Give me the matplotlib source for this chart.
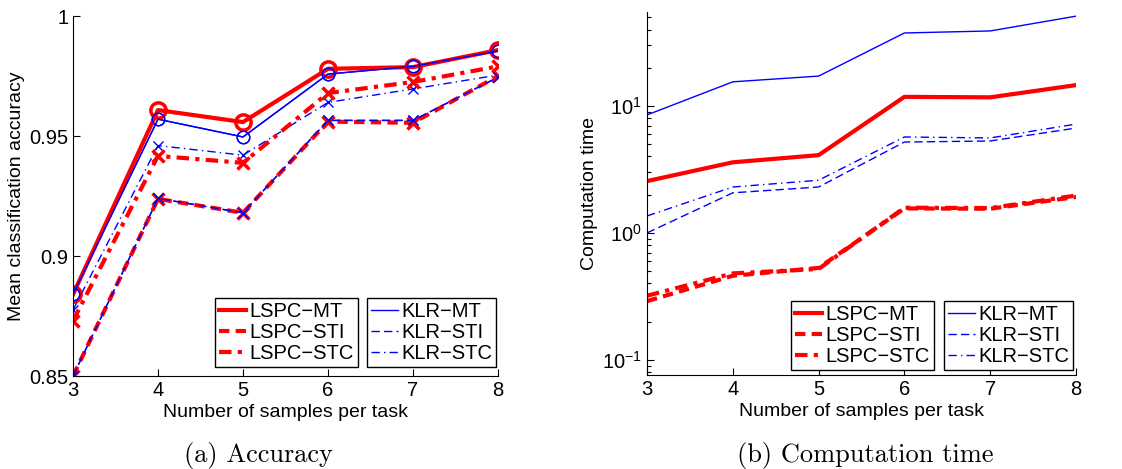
import numpy as np
import matplotlib
matplotlib.use("Agg")
import matplotlib.pyplot as plt

plt.rcParams['font.family'] = ['Liberation Sans', 'DejaVu Sans']
plt.rcParams['mathtext.fontset'] = 'custom'
plt.rcParams['mathtext.rm'] = 'Liberation Sans'
plt.rcParams['mathtext.it'] = 'Liberation Sans'

samples = [3, 4, 5, 6, 7, 8]

# (a) mean classification accuracy
acc_lspc_mt = [0.884, 0.9608, 0.9558, 0.978, 0.9787, 0.9858]
acc_lspc_sti = [0.850, 0.9238, 0.918, 0.956, 0.9555, 0.975]
acc_lspc_stc = [0.873, 0.9417, 0.9388, 0.9679, 0.9725, 0.979]
acc_klr_mt = [0.884, 0.957, 0.9496, 0.9758, 0.979, 0.9854]
acc_klr_sti = [0.850, 0.924, 0.918, 0.9565, 0.9565, 0.9745]
acc_klr_stc = [0.8775, 0.946, 0.942, 0.964, 0.9696, 0.9754]

# (b) computation time
t_lspc_mt = [2.56, 3.6, 4.1, 11.8, 11.7, 14.6]
t_lspc_sti = [0.29, 0.46, 0.53, 1.56, 1.55, 1.92]
t_lspc_stc = [0.32, 0.48, 0.52, 1.58, 1.57, 1.97]
t_klr_mt = [8.5, 15.5, 17.2, 37.6, 39.0, 51.0]
t_klr_sti = [1.0, 2.07, 2.3, 5.2, 5.3, 6.7]
t_klr_stc = [1.36, 2.3, 2.6, 5.7, 5.6, 7.2]

lspc_names = ["LSPC\u2212MT", "LSPC\u2212STI", "LSPC\u2212STC"]
klr_names = ["KLR\u2212MT", "KLR\u2212STI", "KLR\u2212STC"]

fig = plt.figure(figsize=(11.22, 4.69), dpi=100)
W, H = 1122.0, 469.0
ax1 = fig.add_axes([73 / W, 1 - 376 / H, (498 - 73) / W, (376 - 16) / H])
ax2 = fig.add_axes([647 / W, 1 - 375 / H, (1076 - 647) / W, (375 - 12) / H])

red = "#ff0000"
blue = "#0000ff"
ls_sti = (0, (2.5, 1.5))
ls_stc = (0, (3, 1.5, 1, 1.5))
ls_sti_b = (0, (6, 3))
ls_stc_b = (0, (6, 3, 1, 3))


def style_axes(ax):
    for s in ["top", "right"]:
        ax.spines[s].set_visible(False)
    ax.tick_params(direction="in", labelsize=14.5, length=5, width=0.8)
    ax.tick_params(which="minor", direction="in", length=3, width=0.8)
    ax.set_xlim(3, 8)
    ax.set_xticks(samples)
    ax.set_xlabel("Number of samples per task", fontsize=14, labelpad=3)


def add_legends(ax, lspc_lines, klr_lines, loc1, loc2):
    kw = dict(fontsize=14.5, frameon=True, fancybox=False, edgecolor="black",
              handlelength=1.35, handletextpad=0.15, borderpad=0.2,
              labelspacing=0.1, borderaxespad=0.0, framealpha=1)
    leg1 = ax.legend(lspc_lines, lspc_names, loc="lower left",
                     bbox_to_anchor=loc1, **kw)
    leg1.get_frame().set_linewidth(1.0)
    ax.add_artist(leg1)
    leg2 = ax.legend(klr_lines, klr_names, loc="lower left",
                     bbox_to_anchor=loc2, **kw)
    leg2.get_frame().set_linewidth(1.0)


# ---- (a) Accuracy ----
ax1.plot(samples, acc_klr_mt, color=blue, lw=1, marker="o", ms=9, mfc="none", mew=1)
ax1.plot(samples, acc_klr_sti, color=blue, lw=1, ls=ls_sti_b, marker="x", ms=7, mew=1)
ax1.plot(samples, acc_klr_stc, color=blue, lw=1, ls=ls_stc_b, marker="x", ms=7, mew=1)
ax1.plot(samples, acc_lspc_mt, color=red, lw=3, marker="o", ms=11, mfc="none", mew=2.5)
ax1.plot(samples, acc_lspc_sti, color=red, lw=3, ls=ls_sti, marker="x", ms=8, mew=2.5)
ax1.plot(samples, acc_lspc_stc, color=red, lw=3, ls=ls_stc, marker="x", ms=8, mew=2.5)
ax1.plot(samples, acc_klr_sti, color=blue, lw=1, ls=ls_sti_b, marker="x", ms=7, mew=1)
ax1.plot(samples, acc_klr_mt, color=blue, lw=1, marker="o", ms=9, mfc="none", mew=1)
style_axes(ax1)
ax1.set_ylim(0.85, 1.0)
ax1.set_yticks([0.85, 0.9, 0.95, 1.0])
ax1.set_yticklabels(["0.85", "0.9", "0.95", "1"])
ax1.set_ylabel("Mean classification accuracy", fontsize=14, labelpad=3)

h_r = [plt.Line2D([], [], color=red, lw=3),
       plt.Line2D([], [], color=red, lw=3, ls=ls_sti),
       plt.Line2D([], [], color=red, lw=3, ls=ls_stc)]
h_b = [plt.Line2D([], [], color=blue, lw=1),
       plt.Line2D([], [], color=blue, lw=1, ls=ls_sti_b),
       plt.Line2D([], [], color=blue, lw=1, ls=ls_stc_b)]
add_legends(ax1, h_r, h_b, ((215 - 73) / 425, (376 - 367) / 360),
            ((367 - 73) / 425, (376 - 367) / 360))

# ---- (b) Computation time ----
ax2.semilogy(samples, t_klr_mt, color=blue, lw=1)
ax2.semilogy(samples, t_klr_sti, color=blue, lw=1, ls=ls_sti_b)
ax2.semilogy(samples, t_klr_stc, color=blue, lw=1, ls=ls_stc_b)
ax2.semilogy(samples, t_lspc_mt, color=red, lw=3)
ax2.semilogy(samples, t_lspc_sti, color=red, lw=3, ls=ls_sti)
ax2.semilogy(samples, t_lspc_stc, color=red, lw=3, ls=ls_stc)
style_axes(ax2)
ax2.set_ylim(0.076, 55)
ax2.set_ylabel("Computation time", fontsize=14, labelpad=3)
add_legends(ax2, h_r, h_b, ((791 - 647) / 429, (375 - 370) / 363),
            ((944 - 647) / 429, (375 - 370) / 363))

# captions
fig.text(258 / W, 1 - 455 / H, "(a) Accuracy", family="cmr10", fontsize=19,
         ha="center", va="center")
fig.text(865 / W, 1 - 455 / H, "(b) Computation time", family="cmr10", fontsize=19,
         ha="center", va="center")

fig.savefig("out.png", dpi=100)
